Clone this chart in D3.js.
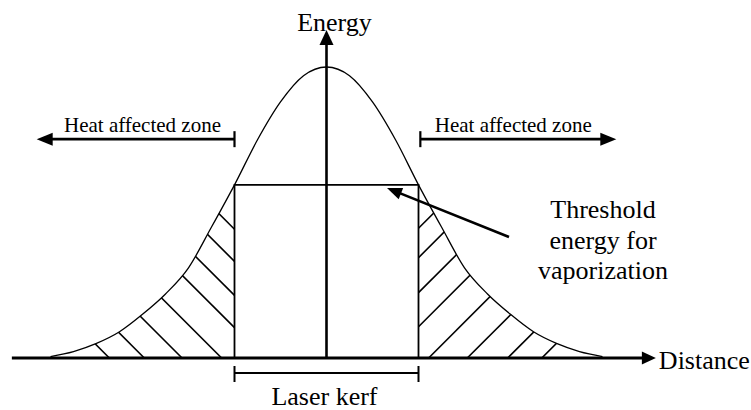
<!DOCTYPE html>
<html>
<head>
<meta charset="utf-8">
<script src="https://cdn.jsdelivr.net/npm/d3@7"></script>
<style>
  body { margin: 0; background: #fff; }
</style>
</head>
<body>
<svg id="chart" width="751" height="410"></svg>
<script>
// Energy profile (distance in kerf half-widths)
const distance = [-3.0, -2.75, -2.5, -2.25, -2.0, -1.75, -1.5, -1.25, -1.0, -0.75, -0.5, -0.25, 0,
  0.25, 0.5, 0.75, 1.0, 1.25, 1.5, 1.75, 2.0, 2.25, 2.5, 2.75, 3.0];
const energy = [0.005, 0.022, 0.05, 0.09, 0.15, 0.22, 0.31, 0.45, 0.595, 0.75, 0.88, 0.97, 1.0,
  0.97, 0.88, 0.75, 0.595, 0.45, 0.31, 0.22, 0.15, 0.09, 0.05, 0.022, 0.005];

// Threshold and kerf edges
const threshold = 0.595;
const kerf = [-1, 1];

// Hatch lines, given by where each one would cross the distance axis
const hatchLeft = [-2.36, -1.98, -1.57, -1.14, -0.67, -0.32, 0.05, 0.40];
const hatchRight = [-0.41, -0.09, 0.29, 0.66, 1.11, 1.53, 1.97, 2.34];

// Labels
const axisLabels = { x: "Distance", y: "Energy" };
const zoneLabel = "Heat affected zone";
const kerfLabel = "Laser kerf";
const thresholdLabel = ["Threshold", "energy for", "vaporization"];

const font = "'Liberation Serif', 'Times New Roman', Times, 'DejaVu Serif', serif";

const svg = d3.select("#chart").attr("font-family", font);

const x = d3.scaleLinear().domain([-1, 1]).range([234.5, 418.5]);
const y = d3.scaleLinear().domain([0, 1]).range([358, 67]);

const points = distance.map((d, i) => [d, energy[i]]);

// Draws a line with a filled triangular head at (x2, y2)
function arrow(g, x1, y1, x2, y2, width, len, half) {
  const dx = x2 - x1, dy = y2 - y1;
  const l = Math.hypot(dx, dy);
  const ux = dx / l, uy = dy / l;
  const bx = x2 - ux * len, by = y2 - uy * len;
  g.append("line")
    .attr("x1", x1).attr("y1", y1)
    .attr("x2", bx + ux * 2).attr("y2", by + uy * 2)
    .attr("stroke", "#000").attr("stroke-width", width);
  g.append("path")
    .attr("d", `M${x2},${y2}L${bx - uy * half},${by + ux * half}L${bx + uy * half},${by - ux * half}Z`)
    .attr("fill", "#000");
}

// Clip to the area under the curve
const area = d3.area()
  .x((d) => x(d[0]))
  .y0(y(0))
  .y1((d) => y(d[1]))
  .curve(d3.curveMonotoneX);

svg.append("clipPath").attr("id", "under")
  .append("path").attr("d", area(points));

const hatch = svg.append("g").attr("clip-path", "url(#under)");
const xL = x(kerf[0]), xR = x(kerf[1]), base = y(0);

hatch.selectAll("line.left")
  .data(hatchLeft)
  .join("line")
  .attr("class", "left")
  .attr("x1", (d) => x(d) - 300)
  .attr("y1", base - 300)
  .attr("x2", (d) => Math.min(x(d), xL))
  .attr("y2", (d) => base - Math.max(0, x(d) - xL))
  .attr("stroke", "#000")
  .attr("stroke-width", 1.6);

hatch.selectAll("line.right")
  .data(hatchRight)
  .join("line")
  .attr("class", "right")
  .attr("x1", (d) => Math.max(x(d), xR))
  .attr("y1", (d) => base - Math.max(0, xR - x(d)))
  .attr("x2", (d) => x(d) + 300)
  .attr("y2", base - 300)
  .attr("stroke", "#000")
  .attr("stroke-width", 1.6);

// Gaussian curve
const line = d3.line()
  .x((d) => x(d[0]))
  .y((d) => y(d[1]))
  .curve(d3.curveMonotoneX);

svg.append("path")
  .attr("d", line(points))
  .attr("fill", "none")
  .attr("stroke", "#000")
  .attr("stroke-width", 1.3);

// Threshold box (kerf)
svg.append("path")
  .attr("d", `M${xL},${base}V${y(threshold)}H${xR}V${base}`)
  .attr("fill", "none")
  .attr("stroke", "#000")
  .attr("stroke-width", 1.8);

// Axes
const axes = svg.append("g");
arrow(axes, x(-3.42), base, x(3.58), base, 3, 14, 6.5);
arrow(axes, x(0), base, x(0), y(1.127), 2.6, 15, 7);

axes.append("text")
  .attr("x", x(3.58) + 3)
  .attr("y", 369)
  .attr("font-size", 26)
  .text(axisLabels.x);

axes.append("text")
  .attr("x", x(0) + 8)
  .attr("y", 31)
  .attr("text-anchor", "middle")
  .attr("font-size", 26)
  .text(axisLabels.y);

// Heat affected zone arrows
const zoneY = y(0.752);
const zones = svg.append("g");
[[-1.0, -3.15, -2.0], [1.02, 3.15, 2.03]].forEach(([from, to, mid]) => {
  arrow(zones, x(from), zoneY, x(to), zoneY, 2.6, 16, 6.5);
  zones.append("line")
    .attr("x1", x(from)).attr("x2", x(from))
    .attr("y1", zoneY - 8).attr("y2", zoneY + 8)
    .attr("stroke", "#000").attr("stroke-width", 2.2);
  zones.append("text")
    .attr("x", x(mid))
    .attr("y", zoneY - 7)
    .attr("text-anchor", "middle")
    .attr("font-size", 21)
    .text(zoneLabel);
});

// Laser kerf bracket
const kerfY = 373;
const bracket = svg.append("g").attr("stroke", "#000").attr("stroke-width", 2);
bracket.append("line").attr("x1", xL).attr("x2", xR).attr("y1", kerfY).attr("y2", kerfY);
kerf.forEach((k) => {
  bracket.append("line")
    .attr("x1", x(k)).attr("x2", x(k))
    .attr("y1", kerfY - 7).attr("y2", kerfY + 9);
});
svg.append("text")
  .attr("x", x(0) - 2)
  .attr("y", 405)
  .attr("text-anchor", "middle")
  .attr("font-size", 26)
  .text(kerfLabel);

// Threshold callout
arrow(svg, 509, 237, 387, 188, 2.6, 15, 6);
svg.append("text")
  .attr("text-anchor", "middle")
  .attr("font-size", 26)
  .selectAll("tspan")
  .data(thresholdLabel)
  .join("tspan")
  .attr("x", 603)
  .attr("y", (d, i) => 218 + i * 30.5)
  .text((d) => d);
</script>
</body>
</html>
